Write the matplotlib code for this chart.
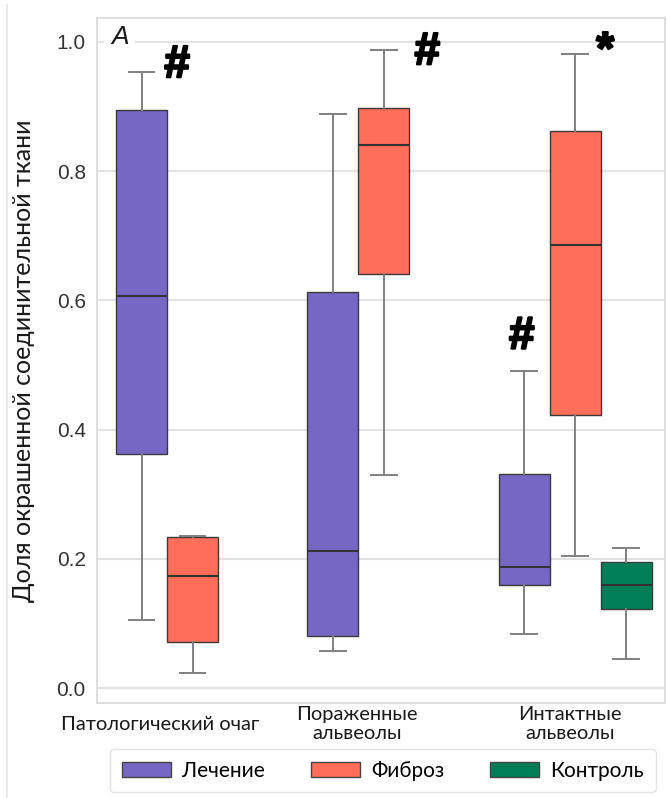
import matplotlib.pyplot as plt
import matplotlib.patheffects as pe
from matplotlib.patches import Patch
from matplotlib.lines import Line2D
from matplotlib.transforms import blended_transform_factory

categories = ['Патологический очаг', 'Пораженные\nальвеолы', 'Интактные\nальвеолы']
groups = ['Лечение', 'Фиброз', 'Контроль']
colors = ['#7767c4', '#ff6e58', '#007f56']

# (whisker low, q1, median, q3, whisker high) per category, None where no data
treatment = [(0.105, 0.362, 0.607, 0.894, 0.954),
             (0.058, 0.080, 0.213, 0.613, 0.889),
             (0.084, 0.160, 0.187, 0.332, 0.491)]
fibrosis = [(0.024, 0.072, 0.173, 0.234, 0.236),
            (0.330, 0.641, 0.841, 0.898, 0.988),
            (0.205, 0.423, 0.686, 0.862, 0.981)]
control = [None, None,
           (0.045, 0.122, 0.160, 0.196, 0.217)]

series = [treatment, fibrosis, control]

text_font = 'Lato'
num_font = 'Liberation Sans'

fig = plt.figure(figsize=(6.67, 7.98), dpi=100)
ax = fig.add_axes([0.1454, 0.119, 0.8516, 0.8584])

width = 0.8 / 3
for k, (data, color) in enumerate(zip(series, colors)):
    stats, pos = [], []
    for i, five in enumerate(data):
        if five is None:
            continue
        lo, q1, med, q3, hi = five
        stats.append(dict(whislo=lo, q1=q1, med=med, q3=q3, whishi=hi, fliers=[]))
        pos.append(i + (k - 1) * width)
    ax.bxp(stats, positions=pos, widths=width, patch_artist=True,
           showfliers=False, manage_ticks=False,
           boxprops=dict(facecolor=color, edgecolor='#3a3a3a', linewidth=1),
           whiskerprops=dict(color='#808080', linewidth=1.4),
           capprops=dict(color='#808080', linewidth=1.4),
           medianprops=dict(color='#333333', linewidth=1.5))

ax.set_xlim(-0.5, 2.47)
ax.set_ylim(-0.023, 1.037)
ax.set_xticks([])
ax.set_yticks([0.0, 0.2, 0.4, 0.6, 0.8, 1.0])
ax.set_yticklabels(['0.0', '0.2', '0.4', '0.6', '0.8', '1.0'],
                   fontfamily=num_font, fontsize=15, color='#333333')
ax.tick_params(axis='y', length=0, pad=8)
ax.yaxis.grid(True, color='#e3e3e3', linewidth=1.5)
ax.set_axisbelow(True)
for sp in ax.spines.values():
    sp.set_color('#dadada')
    sp.set_linewidth(1.25)
    sp.set_zorder(5)

# category labels, vertically centred under the axis
trans = blended_transform_factory(ax.transData, ax.transAxes)
label_x = [-0.172, 0.859, 1.974]
for x, name in zip(label_x, categories):
    ax.text(x, -0.0307, name, transform=trans, ha='center', va='center',
            fontfamily=text_font, fontsize=14.5, linespacing=1.15,
            color='#1a1a1a', clip_on=False)

fig.text(24 / 667, (0.119 + 0.8584 / 2), 'Доля окрашенной соединительной ткани',
         rotation=90, ha='center', va='center', fontfamily=text_font,
         fontsize=18, color='#1a1a1a')

# panel letter and significance marks
ax.text(-0.381, 1.008, 'A', ha='center', va='center', fontfamily=num_font,
        fontstyle='italic', fontsize=19, color='#1a1a1a',
        bbox=dict(facecolor='white', edgecolor='none', pad=5))
heavy = [pe.withStroke(linewidth=1.6, foreground='black')]
for x, y, m in [(-0.081, 0.964, '#'), (1.227, 0.984, '#'),
                (1.721, 0.544, '#'), (2.157, 0.985, '*')]:
    ax.text(x, y, m, ha='center', va='center', fontfamily=num_font,
            fontweight='bold', fontsize=33, color='black', path_effects=heavy)

handles = [Patch(facecolor=c, edgecolor='#444444', linewidth=1) for c in colors]
leg = fig.legend(handles, groups, loc='center', bbox_to_anchor=(0.574, 0.034),
                 ncol=3, frameon=True, fancybox=True, handlelength=2.35,
                 handleheight=0.77, handletextpad=0.55, columnspacing=2.2,
                 borderpad=0.55, prop=dict(family=text_font, size=15))
leg.get_frame().set_edgecolor('#dcdcdc')
leg.get_frame().set_linewidth(1.0)

fig.add_artist(Line2D([7 / 667, 7 / 667], [0, 0.994], color='#e6e6e6',
                      linewidth=1.2, transform=fig.transFigure))

fig.savefig('out.png', dpi=100)
